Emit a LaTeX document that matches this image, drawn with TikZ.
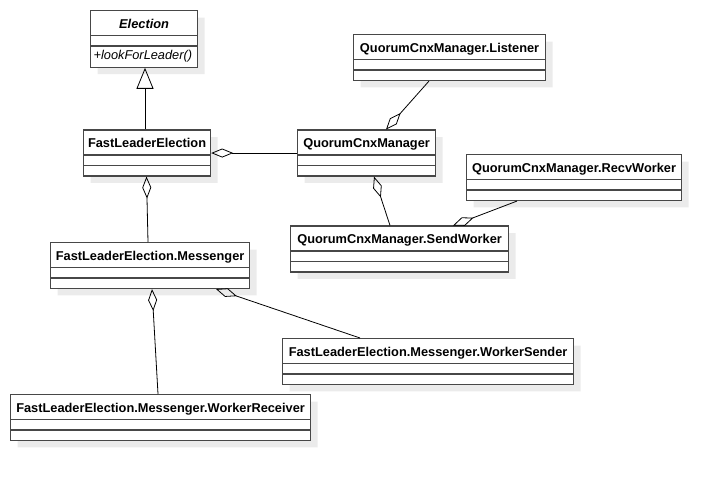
\documentclass[tikz,border=0pt]{standalone}
\usepackage{fontspec}
\setmainfont{Liberation Sans}
\usetikzlibrary{shapes.multipart,shadows,arrows.meta}
\newcommand{\namestrut}{\rule[-4.6pt]{0pt}{19.7pt}}
\newcommand{\opstrut}{\rule[-5pt]{0pt}{16pt}}

\begin{document}
\begin{tikzpicture}[x=1pt,y=-1pt,
    class_node/.style={rectangle split, rectangle split parts=3, draw=black!72, line width=1.2pt, fill=white, anchor=north west, inner xsep=3pt, inner ysep=2pt, rectangle split empty part height=4.6pt, rectangle split empty part depth=0pt, font=\fontsize{12.8}{15}\selectfont\bfseries, drop shadow={shadow xshift=7pt, shadow yshift=-7pt, fill=black!8, opacity=1}},
    agg/.style={-{Diamond[open,length=22pt,width=9pt]}, line width=0.8pt},
    gen/.style={-{Triangle[open,length=21pt,width=17pt]}, line width=0.8pt}]
	    \useasboundingbox (0,0) rectangle (721,478);

	    \node[class_node, minimum width=107pt] (1) at (90,10) {\textit{Election}\namestrut \nodepart{two} \nodepart{three}\makebox[101pt][l]{\mdseries\itshape +lookForLeader()\opstrut}};
	    \node[class_node, minimum width=127pt] (2) at (83,129.5) {FastLeaderElection\namestrut \nodepart{two} \nodepart{three}};
	    \node[class_node, minimum width=138pt] (3) at (297,129.5) {QuorumCnxManager\namestrut \nodepart{two} \nodepart{three}};
	    \node[class_node, minimum width=192pt] (4) at (353,34) {QuorumCnxManager.Listener\namestrut \nodepart{two} \nodepart{three}};
	    \node[class_node, minimum width=215pt] (5) at (466,154) {QuorumCnxManager.RecvWorker\namestrut \nodepart{two} \nodepart{three}};
	    \node[class_node, minimum width=218pt] (6) at (290,225.5) {QuorumCnxManager.SendWorker\namestrut \nodepart{two} \nodepart{three}};
	    \node[class_node, minimum width=199pt] (7) at (50,242) {FastLeaderElection.Messenger\namestrut \nodepart{two} \nodepart{three}};
	    \node[class_node, minimum width=291pt] (8) at (282,338) {FastLeaderElection.Messenger.WorkerSender\namestrut \nodepart{two} \nodepart{three}};
	    \node[class_node, minimum width=300pt] (9) at (10,394) {FastLeaderElection.Messenger.WorkerReceiver\namestrut \nodepart{two} \nodepart{three}};

	    \draw[gen] ([xshift=62pt]2.north west) -- ([xshift=55pt]1.south west);
	    \draw[agg] (3.west) -- (2.east);
	    \draw[agg] ([xshift=76pt]4.south west) -- ([xshift=89pt]3.north west);
	    \draw[agg] ([xshift=100pt]6.north west) -- ([xshift=77pt]3.south west);
	    \draw[agg] ([xshift=51pt]5.south west) -- ([xshift=163pt]6.north west);
	    \draw[agg] ([xshift=98pt]7.north west) -- ([xshift=63.5pt]2.south west);
	    \draw[agg] ([xshift=148pt]9.north west) -- ([xshift=102pt]7.south west);
	    \draw[agg] ([xshift=78pt]8.north west) -- ([xshift=166pt]7.south west);
        \end{tikzpicture}
\end{document}
